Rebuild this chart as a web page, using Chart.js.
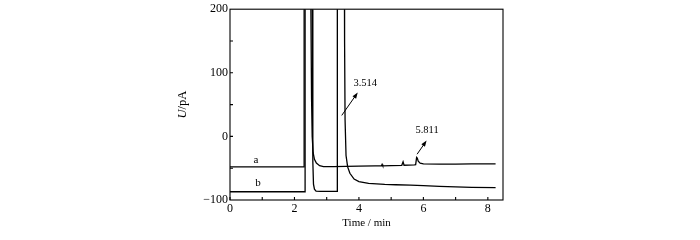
<!DOCTYPE html>
<html>
<head>
<meta charset="utf-8">
<script src="https://cdn.jsdelivr.net/npm/chart.js@4.4.0/dist/chart.umd.min.js"></script>
<style>
  html, body { margin: 0; padding: 0; background: #fff; }
</style>
</head>
<body>
<canvas id="myChart" width="700" height="240"></canvas>
<script>
// chromatograms: time in min, signal in pA (400 = off scale, clipped at the top)
var aTime   = [0, 2.30, 2.30, 2.50, 2.51, 2.53, 2.55, 2.58, 2.62, 2.68, 2.78, 2.90, 3.2, 3.6, 4.0, 4.5, 4.70, 4.72, 4.74, 5.0, 5.33, 5.37, 5.40, 5.72, 5.76, 5.79, 5.81, 5.84, 5.90, 6.0, 6.5, 7.0, 7.5, 8.24];
var aSignal = [-48, -48, 400, 400, 200, 60, 0, -26, -36, -42, -46, -47.5, -47.5, -47, -46.8, -46.5, -46.3, -44, -46.2, -46, -45.5, -40, -45.3, -44.8, -44.5, -33, -34, -39, -42, -43.3, -43.5, -43.5, -43.3, -43.3];

var bTime   = [0, 2.33, 2.33, 2.54, 2.55, 2.57, 2.59, 2.62, 2.67, 2.8, 3.0, 3.33, 3.33, 3.54, 3.555, 3.57, 3.60, 3.65, 3.72, 3.85, 4.0, 4.3, 4.8, 5.14, 5.6, 6.0, 6.5, 7.0, 7.5, 8.24];
var bSignal = [-87, -87, 400, 400, 200, -40, -75, -83, -86, -86.5, -86.5, -86.5, 400, 400, 150, 26, -30, -48, -58, -67, -71, -74, -75.5, -76, -76.5, -77.5, -78.5, -79.5, -80, -80.5];

var xTicks = [0, 2, 4, 6, 8];
var yTicks = [-100, 0, 100, 200];

// peak annotations: label, label position, arrow tail, arrow head (data units)
var peakNames = ['3.514', '5.811'];
var peakLabelAt = [[4.195, 83], [6.115, 10]];
var peakArrowFrom = [[3.467, 33], [5.805, -28]];
var peakArrowTo = [[3.963, 69], [6.099, -6.6]];

var traceNames = ['a', 'b'];
var traceLabelAt = [[0.805, -36.5], [0.867, -74]];

var serif = '"Liberation Serif", "Times New Roman", serif';

function toPoints(xs, ys) {
    return xs.map(function(x, i) { return {x: x, y: ys[i]}; });
}

var framePlugin = {
    id: 'frame',
    afterDatasetsDraw: function(chart) {
        var ctx = chart.ctx, area = chart.chartArea;
        var xs = chart.scales.x, ys = chart.scales.y;
        ctx.save();
        ctx.strokeStyle = '#000';
        ctx.fillStyle = '#000';
        ctx.lineWidth = 1.1;
        ctx.strokeRect(area.left, area.top, area.right - area.left, area.bottom - area.top);

        // inward tick marks
        ctx.beginPath();
        for (var t = 0; t <= 8; t++) {
            var px = xs.getPixelForValue(t);
            ctx.moveTo(px, area.bottom);
            ctx.lineTo(px, area.bottom - 3);
        }
        for (var v = -50; v < 200; v += 50) {
            var py = ys.getPixelForValue(v);
            ctx.moveTo(area.left, py);
            ctx.lineTo(area.left + 3, py);
        }
        ctx.stroke();

        // peak labels and arrows
        ctx.lineWidth = 1;
        ctx.font = '10.5px ' + serif;
        ctx.textAlign = 'center';
        ctx.textBaseline = 'middle';
        peakNames.forEach(function(name, i) {
            ctx.fillText(name, xs.getPixelForValue(peakLabelAt[i][0]), ys.getPixelForValue(peakLabelAt[i][1]));
            var x0 = xs.getPixelForValue(peakArrowFrom[i][0]), y0 = ys.getPixelForValue(peakArrowFrom[i][1]);
            var x1 = xs.getPixelForValue(peakArrowTo[i][0]), y1 = ys.getPixelForValue(peakArrowTo[i][1]);
            var ang = Math.atan2(y1 - y0, x1 - x0);
            ctx.beginPath();
            ctx.moveTo(x0, y0);
            ctx.lineTo(x1 - 4 * Math.cos(ang), y1 - 4 * Math.sin(ang));
            ctx.stroke();
            ctx.beginPath();
            ctx.moveTo(x1, y1);
            ctx.lineTo(x1 - 6 * Math.cos(ang) + 2.2 * Math.sin(ang), y1 - 6 * Math.sin(ang) - 2.2 * Math.cos(ang));
            ctx.lineTo(x1 - 6 * Math.cos(ang) - 2.2 * Math.sin(ang), y1 - 6 * Math.sin(ang) + 2.2 * Math.cos(ang));
            ctx.closePath();
            ctx.fill();
        });

        ctx.font = '11px ' + serif;
        traceNames.forEach(function(name, i) {
            ctx.fillText(name, xs.getPixelForValue(traceLabelAt[i][0]), ys.getPixelForValue(traceLabelAt[i][1]));
        });

        // y title with italic U
        var cy = (area.top + area.bottom) / 2;
        ctx.translate(183, cy);
        ctx.rotate(-Math.PI / 2);
        ctx.textAlign = 'left';
        ctx.font = 'italic 12.5px ' + serif;
        var w1 = ctx.measureText('U').width;
        ctx.font = '12.5px ' + serif;
        var w2 = ctx.measureText('/pA').width;
        var start = -(w1 + w2) / 2;
        ctx.font = 'italic 12.5px ' + serif;
        ctx.fillText('U', start, 0);
        ctx.font = '12.5px ' + serif;
        ctx.fillText('/pA', start + w1, 0);
        ctx.restore();
    }
};

var myChart = new Chart(document.getElementById('myChart'), {
    type: 'line',
    data: {
        datasets: [
            { label: 'a', data: toPoints(aTime, aSignal) },
            { label: 'b', data: toPoints(bTime, bSignal) }
        ]
    },
    options: {
        responsive: false,
        animation: false,
        devicePixelRatio: 1,
        layout: { padding: { left: 0, right: 197, top: 9, bottom: 0 } },
        elements: {
            point: { radius: 0 },
            line: { borderColor: '#000', borderWidth: 1.3, tension: 0 }
        },
        plugins: {
            legend: { display: false },
            tooltip: { enabled: false }
        },
        scales: {
            x: {
                type: 'linear',
                min: 0,
                max: 8.47,
                grid: { display: false, drawTicks: false },
                border: { display: false },
                afterFit: function(s) { s.height = 40; },
                afterBuildTicks: function(s) { s.ticks = xTicks.map(function(v) { return {value: v}; }); },
                ticks: {
                    color: '#000',
                    padding: 2,
                    font: { family: serif, size: 12 }
                },
                title: {
                    display: true,
                    text: 'Time / min',
                    color: '#000',
                    padding: { top: 0, bottom: 10 },
                    font: { family: serif, size: 11 }
                }
            },
            y: {
                min: -100,
                max: 200,
                grid: { display: false, drawTicks: false },
                border: { display: false },
                afterFit: function(s) { s.width = 230; },
                afterBuildTicks: function(s) { s.ticks = yTicks.map(function(v) { return {value: v}; }); },
                ticks: {
                    color: '#000',
                    padding: 2,
                    font: { family: serif, size: 12 },
                    callback: function(v) { return v < 0 ? '\u2212' + Math.abs(v) : String(v); }
                }
            }
        }
    },
    plugins: [framePlugin]
});
</script>
</body>
</html>
